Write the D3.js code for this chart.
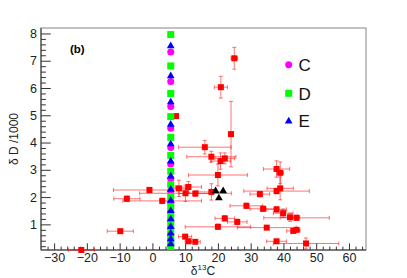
<!DOCTYPE html>
<html><head><meta charset="utf-8">
<script src="https://cdn.jsdelivr.net/npm/d3@7"></script>
<style>body{margin:0;background:#fff}svg{display:block;font-family:"Liberation Sans",Arial,sans-serif}</style>
</head><body><svg id="c" width="407" height="278"></svg>
<script>
// ---- data ----
const xTicks = [-30,-20,-10,0,10,20,30,40,50,60];
const yTicks = [1,2,3,4,5,6,7,8];
const redX  = [25.0,20.9,24.0,7.2,16.0,18.0,20.8,22.1,20.0,-0.9,8.1,11.0,10.1,13.1,18.0,3.0,-7.8,-9.8,-21.7,32.8,37.9,39.0,39.0,37.9,28.7,33.8,37.9,39.9,42.0,44.0,22.1,25.9,20.0,34.9,43.0,44.0,10.0,11.0,13.1,37.9,46.9];
const redY  = [7.09,6.03,4.31,4.97,3.83,3.48,3.32,3.42,2.81,2.26,2.32,2.37,2.14,2.13,2.19,1.86,1.94,0.75,0.06,2.11,3.03,2.89,2.32,2.22,1.68,1.57,1.55,1.41,1.26,1.24,1.22,1.09,0.91,0.88,0.76,0.80,0.55,0.38,0.36,0.38,0.30];
const redEX = [1,2,0.5,0,8,7.5,3,3,9,11,3,4,14,5,4,12,4,4,4,3,4,1,4,10,5,4,3,3,3,10,3,3,10,9,2,1,2,1,1.5,3,10];
const redEY = [0.4,0.4,1.2,0,0.25,0.2,0.3,0.2,0.4,0.1,0.3,0.2,0.3,0.1,0.3,0.1,0.1,0.05,0.05,0.1,0.3,0.4,0.42,0.1,0.1,0.1,0.1,0.15,0.15,0.1,0.1,0.1,0.1,0.05,0.05,0.05,0.05,0.05,0.05,0.05,0.2];
const blackX = [19.3,21.6,20.3];
const blackY = [2.24,2.24,1.98];
const colX = 5.6;
const dY = [7.96,6.81,5.80,4.95,4.19,3.53,2.95,2.45,2.02,1.64,1.31,1.02,0.77,0.55,0.36,0.19];
const cY = [7.32,6.24,5.32,4.52,3.82,3.21,2.67,2.21,1.81,1.46,1.15,0.88,0.65,0.44,0.26];
const eY = [7.56,6.46,5.50,4.68,3.96,3.33,2.78,2.30,1.89,1.52,1.21,0.93,0.69,0.48,0.30];
const legendLabels = ["C","D","E"];

// ---- layout ----
const L=41,R=366,T=28,B=250;
const svg = d3.select("#c");
const x = d3.scaleLinear().domain([-34,65.2]).range([L,R]);
const y = d3.scaleLinear().domain([0.06,8.2]).range([B,T]);

svg.append("rect").attr("x",L).attr("y",T).attr("width",R-L).attr("height",B-T)
  .attr("fill","none").attr("stroke","#999").attr("stroke-width",1.2);

const fmt = d => d<0 ? "\u2212"+(-d) : String(d);
svg.append("g").attr("transform",`translate(0,${B})`)
  .call(d3.axisBottom(x).tickValues(d3.range(-32,66,2).filter(v=>v%10!==0)).tickSize(-3.4).tickFormat(""))
  .call(g=>g.select(".domain").remove());
svg.append("g").attr("transform",`translate(0,${B})`)
  .call(d3.axisBottom(x).tickValues(xTicks).tickSize(-6.7).tickPadding(3).tickFormat(fmt))
  .call(g=>g.select(".domain").attr("d",`M${L},0H${R}`).attr("stroke","#333"))
  .call(g=>g.selectAll("text").attr("font-size",12.5).attr("fill","#222").attr("font-family","Liberation Sans, Arial"));
svg.append("g").attr("transform",`translate(${L},0)`)
  .call(d3.axisLeft(y).tickValues(d3.range(0.2,8.2,0.2).filter(v=>Math.abs(v-Math.round(v))>0.01)).tickSize(-4.9).tickFormat(""))
  .call(g=>g.select(".domain").remove());
svg.append("g").attr("transform",`translate(${L},0)`)
  .call(d3.axisLeft(y).tickValues(yTicks).tickSize(-9.75).tickPadding(4).tickFormat(fmt))
  .call(g=>g.select(".domain").attr("d",`M0,${T}V${B}`).attr("stroke","#333"))
  .call(g=>g.selectAll("text").attr("font-size",12.5).attr("fill","#222").attr("font-family","Liberation Sans, Arial"));
svg.selectAll(".tick line").attr("stroke","#333");

// titles
svg.append("text").attr("transform","translate(18,139) rotate(-90)").attr("text-anchor","middle")
  .attr("font-size",12).attr("fill","#222").text("\u03b4 D /1000");
const xt = svg.append("text").attr("x",203).attr("y",274.5).attr("text-anchor","middle").attr("font-size",12).attr("fill","#222");
xt.append("tspan").text("\u03b4");
xt.append("tspan").attr("font-size",8).attr("dy",-5).text("13");
xt.append("tspan").attr("dy",5).text("C");

svg.append("text").attr("x",70).attr("y",53).attr("font-size",11.5).attr("font-weight","bold").text("(b)");

// red points with error bars
const red = d3.range(redX.length).map(i=>({x:redX[i],y:redY[i],ex:redEX[i],ey:redEY[i]}));
const eb = svg.append("g").attr("stroke","rgba(255,0,0,0.55)").attr("stroke-width",1).attr("fill","none");
red.forEach(d=>{
  const px=x(d.x), py=y(d.y);
  if(d.ex>0){
    const x1=x(d.x-d.ex), x2=x(d.x+d.ex);
    eb.append("line").attr("x1",Math.max(x1,L)).attr("x2",Math.min(x2,R)).attr("y1",py).attr("y2",py);
    if(x1>=L) eb.append("line").attr("x1",x1).attr("x2",x1).attr("y1",py-2).attr("y2",py+2);
    if(x2<=R) eb.append("line").attr("x1",x2).attr("x2",x2).attr("y1",py-2).attr("y2",py+2);
  }
  if(d.ey>0){
    const y1=y(d.y-d.ey), y2=y(d.y+d.ey);
    eb.append("line").attr("x1",px).attr("x2",px).attr("y1",Math.min(y1,B)).attr("y2",y2);
    if(y1<=B) eb.append("line").attr("x1",px-2).attr("x2",px+2).attr("y1",y1).attr("y2",y1);
    eb.append("line").attr("x1",px-2).attr("x2",px+2).attr("y1",y2).attr("y2",y2);
  }
});
svg.append("g").selectAll("rect").data(red).join("rect")
  .attr("x",d=>x(d.x)-3).attr("y",d=>y(d.y)-3).attr("width",6).attr("height",6).attr("fill","#ff0000");

// black triangles
const tri = d3.symbol().type(d3.symbolTriangle).size(26);
svg.append("g").selectAll("path").data(blackX.map((v,i)=>({x:v,y:blackY[i]}))).join("path")
  .attr("d",tri).attr("transform",d=>`translate(${x(d.x)},${y(d.y)+0.5})`).attr("fill","#000");

// C, D, E columns
svg.append("g").selectAll("circle").data(cY).join("circle")
  .attr("cx",x(colX)).attr("cy",d=>y(d)).attr("r",3.5).attr("fill","#ff00ff");
svg.append("g").selectAll("rect").data(dY).join("rect")
  .attr("x",x(colX)-3.5).attr("y",d=>y(d)-3.5).attr("width",7).attr("height",7).attr("fill","#00ff00");
svg.append("g").selectAll("path").data(eY).join("path")
  .attr("d",tri).attr("transform",d=>`translate(${x(colX)},${y(d)+0.5})`).attr("fill","#0000ff");

// legend
const lg = svg.append("g");
const ly = [64.7,93.3,120.7];
lg.append("circle").attr("cx",288.7).attr("cy",ly[0]).attr("r",3.5).attr("fill","#ff00ff");
lg.append("rect").attr("x",285.2).attr("y",ly[1]-3.5).attr("width",7).attr("height",7).attr("fill","#00ff00");
lg.append("path").attr("d",tri).attr("transform",`translate(288.7,${ly[2]+0.5})`).attr("fill","#0000ff");
lg.selectAll("text").data(legendLabels).join("text")
  .attr("x",298.5).attr("y",(d,i)=>ly[i]+6.3).attr("font-size",17).attr("fill","#111").text(d=>d);
</script></body></html>
